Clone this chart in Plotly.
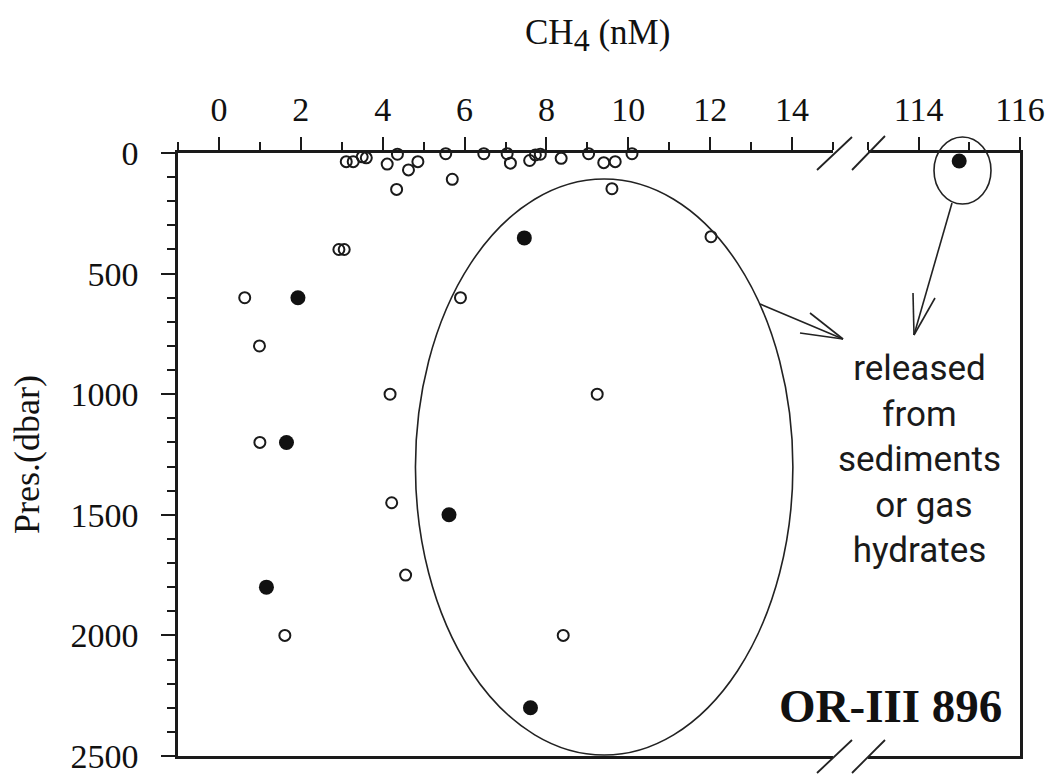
import plotly.graph_objects as go

# ---------------- data ----------------
open_ch4 = [3.11, 3.28, 3.50, 3.60, 4.11, 4.36, 4.63, 4.86, 5.54, 5.70, 4.34,
            6.47, 7.04, 7.12, 7.59, 7.73, 7.85, 8.36, 9.03, 9.40, 9.68, 10.09,
            9.60, 2.93, 3.06, 0.63, 5.90, 12.02, 0.99, 4.18, 9.24, 1.00, 4.22,
            4.56, 1.61, 8.41]
open_pres = [36, 36, 16, 20, 46, 5, 70, 36, 3, 109, 151,
             3, 3, 42, 31, 8, 5, 22, 3, 40, 36, 3,
             148, 400, 400, 600, 600, 347, 800, 1000, 1000, 1200, 1450,
             1750, 2000, 2000]
filled_ch4 = [7.46, 1.93, 1.65, 5.62, 1.16, 7.61, 114.8]
filled_pres = [352, 600, 1200, 1500, 1800, 2300, 33]

x_ticks_low = [0, 2, 4, 6, 8, 10, 12, 14]
x_minor_low = [-1, 1, 3, 5, 7, 9, 11, 13, 15]
x_ticks_high = [114, 116]
x_minor_high = [113, 115]
y_ticks = [0, 500, 1000, 1500, 2000, 2500]
x_range_low = [-1, 15]
x_range_high = [113, 116]
y_range = [2500, 0]

BREAK = 100  # values above this belong to the right-hand axis segment

# ---------------- layout geometry ----------------
W, H = 1051, 774
L, R, T, B = 178, 31, 153, 18
PW, PH = W - L - R, H - T - B


def px(xp):
    return (xp - L) / PW


def py(yp):
    return (H - B - yp) / PH


d1 = px(833)
d2 = px(868)
INK = "#1a1a1a"
SERIF = "Liberation Serif, Times New Roman, serif"

fig = go.Figure()


def split(xs, ys):
    lo = [(x, y) for x, y in zip(xs, ys) if x < BREAK]
    hi = [(x, y) for x, y in zip(xs, ys) if x >= BREAK]
    return lo, hi


o_lo, o_hi = split(open_ch4, open_pres)
f_lo, f_hi = split(filled_ch4, filled_pres)

open_marker = dict(symbol="circle-open", size=11, color=INK, line=dict(width=2, color=INK))
fill_marker = dict(symbol="circle", size=15, color="#111111", line=dict(width=0))

for pts, mk, xa, ya in [(o_lo, open_marker, "x", "y"), (o_hi, open_marker, "x2", "y2"),
                        (f_lo, fill_marker, "x", "y"), (f_hi, fill_marker, "x2", "y2")]:
    if not pts:
        continue
    fig.add_trace(go.Scatter(x=[p[0] for p in pts], y=[p[1] for p in pts], mode="markers",
                             marker=mk, xaxis=xa, yaxis=ya, cliponaxis=False,
                             showlegend=False, hoverinfo="x+y"))

axis_common = dict(showline=True, linewidth=2.5, linecolor=INK, showgrid=False, zeroline=False,
                   ticks="outside", tickwidth=2, tickcolor=INK, automargin=False,
                   tickfont=dict(family=SERIF, size=34, color="#111111"))

fig.update_layout(
    width=W, height=H,
    margin=dict(l=L, r=R, t=T, b=B, autoexpand=False),
    paper_bgcolor="white", plot_bgcolor="white",
    showlegend=False,
    xaxis=dict(domain=[0, d1], range=x_range_low, side="top", anchor="y", mirror=True,
               tickvals=x_ticks_low, ticktext=[str(v) for v in x_ticks_low], ticklen=13,
               minor=dict(tickvals=x_minor_low, ticklen=8, tickwidth=2, tickcolor=INK, ticks="outside"),
               ticklabelstandoff=3, **axis_common),
    xaxis2=dict(domain=[d2, 1], range=x_range_high, side="top", anchor="y2", mirror=True,
                tickvals=x_ticks_high, ticktext=[str(v) for v in x_ticks_high], ticklen=13,
                minor=dict(tickvals=x_minor_high, ticklen=8, tickwidth=2, tickcolor=INK, ticks="outside"),
                ticklabelstandoff=3, **axis_common),
    yaxis=dict(domain=[0, 1], range=y_range, anchor="x", tickvals=y_ticks,
               ticktext=[str(v) for v in y_ticks], ticklen=14, ticklabeloverflow="allow",
               minor=dict(dtick=100, ticklen=8, tickwidth=2, tickcolor=INK, ticks="outside"),
               ticklabelstandoff=16, **axis_common),
    yaxis2=dict(domain=[0, 1], range=y_range, anchor="x2", side="right", matches="y",
                showline=True, linewidth=2.5, linecolor=INK, showgrid=False, zeroline=False,
                showticklabels=False, ticks="", automargin=False),
)

# big ellipse around the deep-water anomaly (data coordinates)
fig.add_shape(type="circle", xref="x", yref="y", x0=4.80, x1=14.02, y0=108, y1=2496,
              line=dict(color="#222222", width=1.6))
# small ellipse around the 115 nM sample (paper coordinates, extends above axis)
fig.add_shape(type="circle", xref="paper", yref="paper", x0=px(934), x1=px(991),
              y0=py(204), y1=py(137), line=dict(color="#222222", width=1.6))


def seg(x0, y0, x1, y1, w=1.6):
    fig.add_shape(type="line", xref="paper", yref="paper", x0=px(x0), y0=py(y0),
                  x1=px(x1), y1=py(y1), line=dict(color="#222222", width=w))


# axis break slashes
for (a, b, c, d) in [(817, 170, 852, 137), (852, 170, 885, 136),
                     (817, 773, 852, 740), (852, 773, 885, 740)]:
    seg(a, b, c, d, 1.8)

# arrows (open V heads)
seg(760, 304, 843, 339)
seg(843, 339, 810, 313)
seg(843, 339, 800, 333)
seg(952, 203, 914, 335)
seg(914, 335, 913, 293)
seg(914, 335, 935, 298)

# texts
fig.add_annotation(xref="paper", yref="paper", x=px(597), y=py(35), showarrow=False,
                   text="CH<sub><span style='font-size:32px'>4</span></sub> (nM)",
                   font=dict(family=SERIF, size=35, color="#111111"),
                   xanchor="center", yanchor="middle")
fig.add_annotation(xref="paper", yref="paper", x=px(27), y=py(455), showarrow=False,
                   text="Pres.(dbar)", textangle=-90,
                   font=dict(family=SERIF, size=36, color="#111111"),
                   xanchor="center", yanchor="middle")
fig.add_annotation(xref="paper", yref="paper", x=px(919), y=py(459), showarrow=False,
                   text="released<br>from<br>sediments<br> or gas<br>hydrates", align="center",
                   font=dict(family="Roboto, Noto Sans, sans-serif", size=35, color="#1a1a1a"),
                   xanchor="center", yanchor="middle")
fig.add_annotation(xref="paper", yref="paper", x=px(890), y=py(706), showarrow=False,
                   text="<b>OR-III 896</b>", font=dict(family=SERIF, size=47, color="#111111"),
                   xanchor="center", yanchor="middle")

fig.write_html("out.html", config={"displayModeBar": False},
               post_script="document.body.style.margin='0px';")
